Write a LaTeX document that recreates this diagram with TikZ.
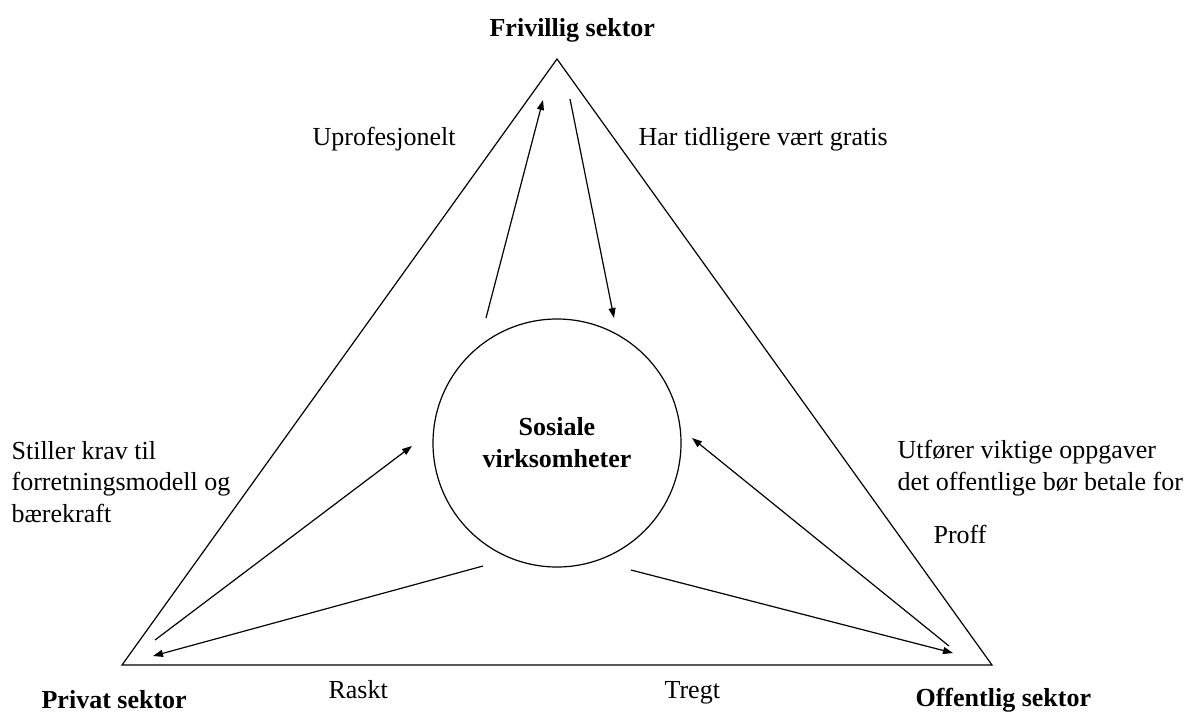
\documentclass[tikz,border=0pt]{standalone}
\usepackage{fontspec}
\setmainfont{Liberation Serif}
\usetikzlibrary{arrows.meta}
\begin{document}
\begin{tikzpicture}[x=1pt,y=-1pt,line width=1.2pt,
  lbl/.style={font=\fontsize{26}{31.5}\selectfont, inner sep=0pt, anchor=base west, align=left},
  ttl/.style={inner sep=0pt, anchor=base west, font=\fontsize{26}{31.5}\selectfont\bfseries},
  arr/.style={-{Triangle[length=10pt,width=7pt]}, line width=1.2pt}]
\useasboundingbox (0,0) rectangle (1186,713);
% triangle corners
\coordinate (T) at (557,59);
\coordinate (L) at (122,665);
\coordinate (R) at (992,665);
\draw[line join=miter] (T) -- (L) -- (R) -- cycle;
% centre circle
\node[circle, draw, minimum size=248pt, inner sep=0pt, align=center,
      font=\fontsize{26}{32}\selectfont\bfseries] (sv) at (557,443) {Sosiale\\virksomheter};
% arrow ends
\coordinate (a1s) at (486,318); \coordinate (a1e) at (543,100);
\coordinate (a2s) at (570,99);  \coordinate (a2e) at (614,318);
\coordinate (a3s) at (155,640); \coordinate (a3e) at (412,446);
\coordinate (a4s) at (483,566); \coordinate (a4e) at (153,656);
\coordinate (a5s) at (949,646); \coordinate (a5e) at (692,438);
\coordinate (a6s) at (631,570); \coordinate (a6e) at (953,653);
\draw[arr] (a1s) -- (a1e);
\draw[arr] (a2s) -- (a2e);
\draw[arr] (a3s) -- (a3e);
\draw[arr] (a4s) -- (a4e);
\draw[arr] (a5s) -- (a5e);
\draw[arr] (a6s) -- (a6e);
% titles
\node[ttl] (fs) at (489,36) {Frivillig sektor};
\node[ttl] (ps) at (41,708) {Privat sektor};
\node[ttl] (os) at (915,706) {Offentlig sektor};
% labels (multi-line: anchor at last baseline)
\node[lbl] (up) at (312,145) {Uprofesjonelt};
\node[lbl] (ht) at (638,145) {Har tidligere vært gratis};
\node[lbl] (sk) at (11,522) {Stiller krav til\\forretningsmodell og\\bærekraft};
\node[lbl] (uv) at (897,490) {Utfører viktige oppgaver\\det offentlige bør betale for};
\node[lbl] (pr) at (933,543) {Proff};
\node[lbl] (ra) at (328,698) {Raskt};
\node[lbl] (tr) at (664,698) {Tregt};
\end{tikzpicture}
\end{document}
